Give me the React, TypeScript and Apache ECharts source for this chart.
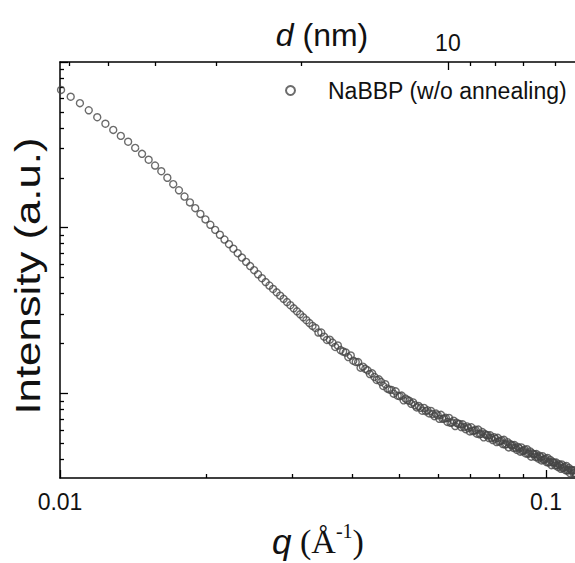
import React, { useEffect, useRef } from "react";
import * as echarts from "echarts";

// q (1/Å) of each measured point
const qValues = [
  0.01005, 0.01052, 0.01099, 0.01146, 0.01193, 0.0124, 0.01287, 0.01334, 0.01381, 0.01428,
  0.01475, 0.01522, 0.01569, 0.01616, 0.01663, 0.0171, 0.01757, 0.01804, 0.01851, 0.01898,
  0.01945, 0.01992, 0.02039, 0.02086, 0.02133, 0.0218, 0.02227, 0.02274, 0.02321, 0.02368,
  0.02415, 0.02462, 0.02509, 0.02556, 0.02603, 0.0265, 0.02697, 0.02744, 0.02791, 0.02838,
  0.02885, 0.02932, 0.02979, 0.03026, 0.03073, 0.0312, 0.03167, 0.03214, 0.03261, 0.03308,
  0.03355, 0.03402, 0.03449, 0.03496, 0.03543, 0.0359, 0.03637, 0.03684, 0.03731, 0.03778,
  0.03825, 0.03872, 0.03919, 0.03966, 0.04013, 0.0406, 0.04107, 0.04154, 0.04201, 0.04248,
  0.04295, 0.04342, 0.04389, 0.04436, 0.04483, 0.0453, 0.04577, 0.04624, 0.04671, 0.04718,
  0.04765, 0.04812, 0.04859, 0.04906, 0.04953, 0.05, 0.05047, 0.05094, 0.05141, 0.05188,
  0.05235, 0.05282, 0.05329, 0.05376, 0.05423, 0.0547, 0.05517, 0.05564, 0.05611, 0.05658,
  0.05705, 0.05752, 0.05799, 0.05846, 0.05893, 0.0594, 0.05987, 0.06034, 0.06081, 0.06128,
  0.06175, 0.06222, 0.06269, 0.06316, 0.06363, 0.0641, 0.06457, 0.06504, 0.06551, 0.06598,
  0.06645, 0.06692, 0.06739, 0.06786, 0.06833, 0.0688, 0.06927, 0.06974, 0.07021, 0.07068,
  0.07115, 0.07162, 0.07209, 0.07256, 0.07303, 0.0735, 0.07397, 0.07444, 0.07491, 0.07538,
  0.07585, 0.07632, 0.07679, 0.07726, 0.07773, 0.0782, 0.07867, 0.07914, 0.07961, 0.08008,
  0.08055, 0.08102, 0.08149, 0.08196, 0.08243, 0.0829, 0.08337, 0.08384, 0.08431, 0.08478,
  0.08525, 0.08572, 0.08619, 0.08666, 0.08713, 0.0876, 0.08807, 0.08854, 0.08901, 0.08948,
  0.08995, 0.09042, 0.09089, 0.09136, 0.09183, 0.0923, 0.09277, 0.09324, 0.09371, 0.09418,
  0.09465, 0.09512, 0.09559, 0.09606, 0.09653, 0.097, 0.09747, 0.09794, 0.09841, 0.09888,
  0.09935, 0.09982, 0.10029, 0.10076, 0.10123, 0.1017, 0.10217, 0.10264, 0.10311, 0.10358,
  0.10405, 0.10452, 0.10499, 0.10546, 0.10593, 0.1064, 0.10687, 0.10734, 0.10781, 0.10828,
  0.10875, 0.10922, 0.10969, 0.11016, 0.11063, 0.1111, 0.11157, 0.11204, 0.11251, 0.11298,
  0.11345, 0.11392, 0.11439, 0.11486, 0.11533,
];

// Intensity (a.u.) of each point
const intensityValues = [
  67.8, 61.7, 56.4, 51.1, 46.4, 42.4, 38.9, 35.8, 33.0, 30.3,
  27.9, 25.7, 23.7, 21.9, 20.0, 18.3, 16.8, 15.4, 14.2, 13.1,
  12.1, 11.21, 10.4, 9.69, 9.055, 8.474, 7.943, 7.456, 7.006, 6.594,
  6.21, 5.857, 5.531, 5.227, 4.947, 4.688, 4.468, 4.261, 4.066, 3.884,
  3.713, 3.551, 3.399, 3.256, 3.122, 2.995, 2.873, 2.759, 2.652, 2.549,
  2.477, 2.326, 2.325, 2.196, 2.096, 2.105, 2.021, 1.902, 1.941, 1.821,
  1.786, 1.761, 1.653, 1.689, 1.571, 1.544, 1.541, 1.427, 1.446, 1.403,
  1.374, 1.305, 1.318, 1.254, 1.202, 1.213, 1.17, 1.106, 1.133, 1.067,
  1.0505, 1.046, 0.9934, 1.0267, 0.9655, 0.9595, 0.9676, 0.9055, 0.928, 0.9089,
  0.8992, 0.8634, 0.8803, 0.8458, 0.8205, 0.837, 0.8167, 0.7841, 0.8154, 0.7791,
  0.7886, 0.7549, 0.7822, 0.7495, 0.727, 0.7536, 0.736, 0.7005, 0.7401, 0.7004,
  0.7026, 0.7098, 0.6711, 0.7089, 0.6628, 0.6661, 0.6821, 0.6335, 0.6622, 0.6525,
  0.6514, 0.6249, 0.6489, 0.6234, 0.6062, 0.63, 0.6166, 0.588, 0.6227, 0.5907,
  0.5939, 0.6012, 0.5697, 0.6031, 0.5647, 0.5681, 0.5824, 0.5414, 0.5665, 0.5587,
  0.5582, 0.5362, 0.5572, 0.5357, 0.5215, 0.5422, 0.5313, 0.5072, 0.5375, 0.5103,
  0.5135, 0.5201, 0.4934, 0.5227, 0.4897, 0.4932, 0.5059, 0.4707, 0.4929, 0.4864,
  0.4863, 0.4674, 0.4861, 0.4676, 0.4555, 0.4738, 0.4646, 0.4437, 0.4705, 0.4469,
  0.4499, 0.456, 0.4327, 0.4588, 0.43, 0.4333, 0.4447, 0.4139, 0.4337, 0.4284,
  0.4286, 0.4121, 0.4289, 0.4128, 0.4023, 0.4189, 0.4109, 0.3926, 0.4163, 0.3956,
  0.3984, 0.4041, 0.3836, 0.4067, 0.3814, 0.3845, 0.3947, 0.3676, 0.3852, 0.3806,
  0.3809, 0.3663, 0.3814, 0.3672, 0.358, 0.3728, 0.3659, 0.3498, 0.3712, 0.353,
  0.3556, 0.3608, 0.3427, 0.3634, 0.341, 0.3439, 0.3533, 0.3291, 0.3451, 0.3411,
  0.3415, 0.3287, 0.3423, 0.3297, 0.3216,
];

const seriesName = "NaBBP (w/o annealing)";

// bottom axis q ticks
const qMajorTicks = [0.01, 0.1];
const qMinorTicks = [0.02, 0.03, 0.04, 0.05, 0.06, 0.07, 0.08, 0.09];
// top axis d (nm) ticks
const dMajorTicks = [10];
const dMinorTicks = [60, 50, 40, 30, 20, 9, 8, 7, 6];
// left axis intensity ticks
const yMajorTicks = [1, 10, 100];
const yMinorTicks = [
  0.4, 0.5, 0.6, 0.7, 0.8, 0.9,
  2, 3, 4, 5, 6, 7, 8, 9,
  20, 30, 40, 50, 60, 70, 80, 90,
];

const Q_MIN = 0.01;
const Q_MAX = 0.11475;
const I_MIN = 0.3076;
const I_MAX = 100;

// d (nm) -> q (1/Å)
const dToQ = (d: number) => (2 * Math.PI) / (d * 10);

const SANS = "'Liberation Sans', Arial, sans-serif";
const SERIF = "'Liberation Serif', 'Times New Roman', serif";

export default function App() {
  const ref = useRef<HTMLDivElement>(null);

  useEffect(() => {
    if (!ref.current) return;
    const chart = echarts.init(ref.current, null, { renderer: "svg" });

    const lineStyle = { color: "#000", width: 1.5 };
    const tickStyle = { color: "#000", width: 1.3 };

    const baseX = {
      type: "log" as const,
      logBase: 10,
      min: Q_MIN,
      max: Q_MAX,
      gridIndex: 0,
      splitLine: { show: false },
      minorTick: { show: false },
      axisPointer: { show: false },
    };
    const baseY = {
      type: "log" as const,
      logBase: 10,
      min: I_MIN,
      max: I_MAX,
      gridIndex: 0,
      splitLine: { show: false },
      minorTick: { show: false },
      axisPointer: { show: false },
    };

    const dMajorQ = dMajorTicks.map(dToQ);
    const dMinorQ = dMinorTicks.map(dToQ);

    chart.setOption({
      animation: false,
      backgroundColor: "#fff",
      grid: {
        left: 60,
        top: 62,
        width: 515,
        height: 416,
        containLabel: false,
        outerBoundsMode: "none",
      },
      legend: {
        left: 280,
        top: 74,
        itemWidth: 9,
        itemHeight: 9,
        data: [{ name: seriesName, icon: "circle" }],
        textStyle: {
          fontSize: 23,
          fontFamily: SANS,
          color: "#111",
          padding: [0, 0, 0, 28],
        },
      },
      xAxis: [
        {
          ...baseX,
          position: "bottom",
          axisLine: { show: true, lineStyle },
          axisTick: { show: true, inside: true, length: 8, lineStyle: tickStyle, customValues: qMajorTicks },
          axisLabel: {
            show: true,
            customValues: qMajorTicks,
            formatter: (v: number) => (v < 0.05 ? "0.01" : "0.1"),
            fontSize: 23,
            fontFamily: SANS,
            color: "#111",
            margin: 12,
          },
        },
        {
          ...baseX,
          position: "bottom",
          axisLine: { show: false },
          axisTick: { show: true, inside: true, length: 4, lineStyle: tickStyle, customValues: qMinorTicks },
          axisLabel: { show: false },
        },
        {
          ...baseX,
          position: "top",
          axisLine: { show: true, lineStyle },
          axisTick: { show: true, inside: true, length: 8, lineStyle: tickStyle, customValues: dMajorQ },
          axisLabel: {
            show: true,
            customValues: dMajorQ,
            formatter: (v: number) => String(Math.round((2 * Math.PI) / (v * 10))),
            fontSize: 23,
            fontFamily: SANS,
            color: "#111",
            margin: 8,
          },
        },
        {
          ...baseX,
          position: "top",
          axisLine: { show: false },
          axisTick: { show: true, inside: true, length: 4, lineStyle: tickStyle, customValues: dMinorQ },
          axisLabel: { show: false },
        },
      ],
      yAxis: [
        {
          ...baseY,
          position: "left",
          axisLine: { show: true, lineStyle },
          axisTick: { show: true, inside: true, length: 8, lineStyle: tickStyle, customValues: yMajorTicks },
          axisLabel: { show: false },
        },
        {
          ...baseY,
          position: "left",
          axisLine: { show: false },
          axisTick: { show: true, inside: true, length: 4, lineStyle: tickStyle, customValues: yMinorTicks },
          axisLabel: { show: false },
        },
      ],
      series: [
        {
          name: seriesName,
          type: "scatter",
          xAxisIndex: 0,
          yAxisIndex: 0,
          symbol: "circle",
          symbolSize: 7,
          clip: false,
          itemStyle: {
            color: "rgba(255,255,255,0)",
            borderColor: "#464646",
            borderWidth: 1.4,
          },
          emphasis: { disabled: true },
          data: qValues.map((q, i) => [q, intensityValues[i]]),
        },
      ],
      graphic: [
        {
          type: "text",
          x: 322,
          y: 35,
          style: {
            text: "{i|d} {n|(nm)}",
            fontSize: 32,
            fontFamily: SANS,
            fill: "#111",
            align: "center",
            verticalAlign: "middle",
            rich: {
              i: { fontSize: 32, fontFamily: SANS, fontStyle: "italic", fill: "#111" },
              n: { fontSize: 32, fontFamily: SANS, fill: "#111" },
            },
          },
        },
        {
          type: "text",
          x: 28,
          y: 276,
          rotation: Math.PI / 2,
          scaleX: 1.25,
          style: {
            text: "Intensity (a.u.)",
            fontSize: 35,
            fontFamily: SANS,
            fill: "#111",
            align: "center",
            verticalAlign: "middle",
          },
        },
        {
          type: "text",
          x: 318,
          y: 541,
          style: {
            text: "{q|q} {t|(Å}{s|-1}{t|)}",
            fontSize: 34,
            fontFamily: SERIF,
            fill: "#111",
            align: "center",
            verticalAlign: "middle",
            rich: {
              q: { fontSize: 35, fontFamily: SANS, fontStyle: "italic", fill: "#111", lineHeight: 40 },
              t: { fontSize: 34, fontFamily: SERIF, fill: "#111", lineHeight: 40 },
              s: { fontSize: 20, fontFamily: SERIF, fill: "#111", lineHeight: 22, verticalAlign: "top" },
            },
          },
        },
      ],
    });

    return () => chart.dispose();
  }, []);

  return (
    <div
      ref={ref}
      style={{ position: "fixed", left: 0, top: 0, width: 575, height: 563, background: "#fff" }}
    />
  );
}
